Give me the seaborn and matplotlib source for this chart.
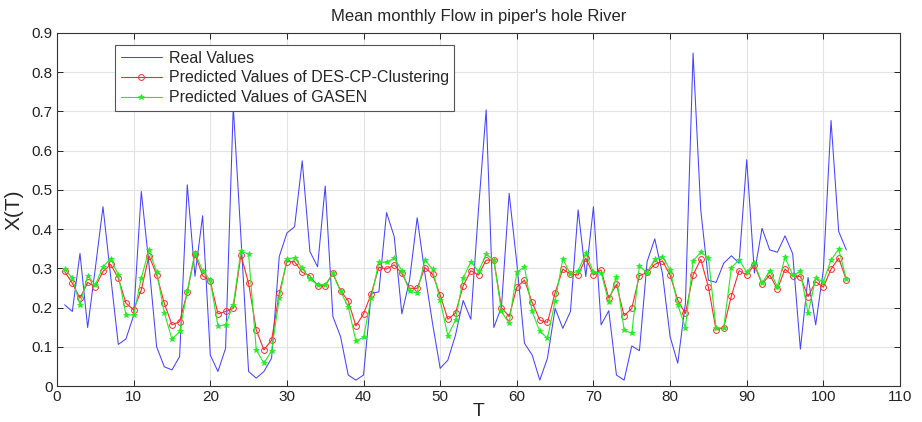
import numpy as np
import pandas as pd
import matplotlib
matplotlib.use("Agg")
import matplotlib.pyplot as plt
import seaborn as sns

T = list(range(1, 104))

real_values = [
    0.207, 0.19, 0.338, 0.149, 0.30, 0.457, 0.28, 0.106, 0.12, 0.18,
    0.496, 0.31, 0.10, 0.049, 0.041, 0.075, 0.513, 0.28, 0.434, 0.079,
    0.037, 0.096, 0.713, 0.38, 0.037, 0.02, 0.037, 0.071, 0.33, 0.39,
    0.406, 0.574, 0.343, 0.304, 0.51, 0.177, 0.126, 0.028, 0.015, 0.028,
    0.236, 0.24, 0.442, 0.381, 0.184, 0.27, 0.429, 0.287, 0.16, 0.045,
    0.066, 0.13, 0.218, 0.17, 0.45, 0.704, 0.149, 0.202, 0.491, 0.313,
    0.109, 0.079, 0.015, 0.071, 0.198, 0.147, 0.19, 0.449, 0.279, 0.457,
    0.156, 0.192, 0.028, 0.015, 0.102, 0.09, 0.317, 0.375, 0.287, 0.126,
    0.058, 0.211, 0.849, 0.449, 0.27, 0.264, 0.313, 0.332, 0.313, 0.577,
    0.288, 0.402, 0.347, 0.341, 0.383, 0.337, 0.094, 0.277, 0.156, 0.296,
    0.677, 0.394, 0.347,
]

des_cp_clustering = [
    0.292, 0.262, 0.224, 0.264, 0.253, 0.292, 0.31, 0.275, 0.211, 0.194,
    0.245, 0.332, 0.284, 0.211, 0.156, 0.164, 0.239, 0.337, 0.281, 0.268,
    0.184, 0.19, 0.198, 0.334, 0.262, 0.143, 0.092, 0.117, 0.236, 0.317,
    0.317, 0.29, 0.281, 0.256, 0.256, 0.287, 0.243, 0.217, 0.153, 0.184,
    0.235, 0.303, 0.298, 0.309, 0.287, 0.249, 0.249, 0.302, 0.285, 0.232,
    0.17, 0.186, 0.255, 0.294, 0.283, 0.321, 0.321, 0.2, 0.177, 0.252,
    0.27, 0.213, 0.168, 0.162, 0.238, 0.298, 0.285, 0.283, 0.326, 0.283,
    0.296, 0.224, 0.259, 0.179, 0.198, 0.281, 0.29, 0.31, 0.319, 0.283,
    0.219, 0.185, 0.283, 0.323, 0.252, 0.143, 0.149, 0.23, 0.294, 0.283,
    0.309, 0.26, 0.283, 0.247, 0.298, 0.281, 0.279, 0.228, 0.266, 0.252,
    0.298, 0.326, 0.27,
]

gasen = [
    0.298, 0.275, 0.207, 0.281, 0.258, 0.304, 0.325, 0.283, 0.181, 0.181,
    0.275, 0.347, 0.291, 0.187, 0.119, 0.139, 0.241, 0.34, 0.294, 0.269,
    0.153, 0.156, 0.207, 0.344, 0.336, 0.092, 0.058, 0.09, 0.224, 0.324,
    0.327, 0.3, 0.273, 0.258, 0.258, 0.287, 0.241, 0.202, 0.115, 0.124,
    0.224, 0.316, 0.315, 0.326, 0.294, 0.241, 0.238, 0.321, 0.298, 0.218,
    0.128, 0.168, 0.275, 0.317, 0.292, 0.336, 0.321, 0.19, 0.16, 0.29,
    0.304, 0.19, 0.139, 0.122, 0.217, 0.324, 0.285, 0.294, 0.338, 0.29,
    0.289, 0.213, 0.279, 0.143, 0.134, 0.306, 0.289, 0.323, 0.33, 0.296,
    0.207, 0.149, 0.319, 0.341, 0.327, 0.147, 0.149, 0.302, 0.321, 0.29,
    0.313, 0.262, 0.294, 0.253, 0.328, 0.283, 0.292, 0.185, 0.275, 0.266,
    0.321, 0.349, 0.272,
]

labels = [
    "Real Values",
    "Predicted Values of DES-CP-Clustering",
    "Predicted Values of GASEN",
]

df = pd.DataFrame({
    "T": T * 3,
    "X(T)": real_values + des_cp_clustering + gasen,
    "series": [labels[0]] * len(T) + [labels[1]] * len(T) + [labels[2]] * len(T),
})

sns.set_theme(style="white")
plt.rcParams["font.family"] = ["Liberation Sans", "DejaVu Sans"]

fig = plt.figure(figsize=(9.22, 4.22), dpi=100)
ax = fig.add_axes([57 / 922, 36 / 422, 843 / 922, 353 / 422])

palette = {labels[0]: "#4444ff", labels[1]: "#ff2a2a", labels[2]: "#22ee22"}
widths = {labels[0]: 0.75, labels[1]: 0.8, labels[2]: 0.8}
marker_styles = {
    labels[0]: dict(marker=""),
    labels[1]: dict(marker="o", markersize=4.2, markerfacecolor="none",
                    markeredgecolor="#ff2a2a", markeredgewidth=0.7),
    labels[2]: dict(marker="*", markersize=4.0, markerfacecolor="#22ee22",
                    markeredgecolor="#22ee22", markeredgewidth=0.5),
}
for name in labels:
    sub = df[df["series"] == name]
    sns.lineplot(data=sub, x="T", y="X(T)", ax=ax, color=palette[name],
                 linewidth=widths[name], label=name)
    line = ax.lines[-1]
    line.set(**marker_styles[name])

ax.set_xlim(0, 110)
ax.set_ylim(0, 0.9)
ax.set_xticks(np.arange(0, 111, 10))
ax.set_yticks(np.round(np.arange(0, 0.91, 0.1), 1))
ax.set_yticklabels(["0"] + [f"{v:.1f}" for v in np.arange(0.1, 0.91, 0.1)])
ax.grid(True, color="#e3e3e3", linewidth=0.8)
ax.set_axisbelow(True)
for s in ax.spines.values():
    s.set_color("#333333")
    s.set_linewidth(0.8)
ax.tick_params(direction="in", length=4, width=0.7, colors="#222222",
               labelsize=11, top=True, right=True, bottom=True, left=True,
               pad=3)

ax.set_xlabel("T", fontsize=14, labelpad=-1)
ax.set_ylabel("X(T)", fontsize=15, labelpad=6)
ax.set_title("Mean monthly Flow in piper's hole River", fontsize=12, pad=9)

leg = ax.legend(loc="upper left", bbox_to_anchor=(58 / 843, 1 - 12 / 353),
                fontsize=11.5, frameon=True, fancybox=False, edgecolor="#555555",
                framealpha=1, handlelength=2.6, borderpad=0.35,
                labelspacing=0.3, handletextpad=0.4, borderaxespad=0)
leg.get_frame().set_linewidth(0.8)

fig.savefig("out.png", dpi=100)
